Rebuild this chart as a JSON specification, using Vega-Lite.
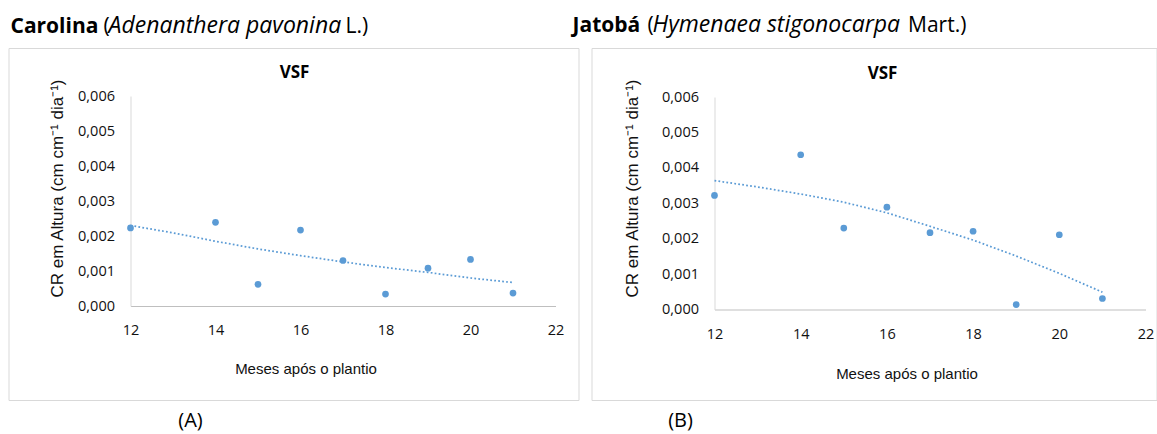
{
  "$schema": "https://vega.github.io/schema/vega-lite/v6.json",
  "background": "white",
  "padding": {"left": 7.5, "top": 13, "right": 0, "bottom": 0},
  "autosize": {"type": "pad"},
  "bounds": "flush",
  "spacing": 13,
  "config": {
    "view": {"stroke": "#d9d9d9", "strokeWidth": 1},
    "axis": {"grid": false, "ticks": false, "labelFlush": false, "labelOverlap": false, "labelFont": "Open Sans", "labelFontSize": 14.5, "labelColor": "#111", "titleFont": "Liberation Sans", "titleFontWeight": "normal", "titleColor": "#111"}
  },
  "datasets": {
    "carolina": [
      {"mes": 12, "cr": 0.00223}, {"mes": 14, "cr": 0.00239}, {"mes": 15, "cr": 0.00062},
      {"mes": 16, "cr": 0.00217}, {"mes": 17, "cr": 0.0013}, {"mes": 18, "cr": 0.00034},
      {"mes": 19, "cr": 0.00108}, {"mes": 20, "cr": 0.00133}, {"mes": 21, "cr": 0.00037}
    ],
    "carolina_trend": [
      {"mes": 12, "cr": 0.0023}, {"mes": 13, "cr": 0.00209}, {"mes": 14, "cr": 0.00185},
      {"mes": 15, "cr": 0.00163}, {"mes": 16, "cr": 0.00144}, {"mes": 17, "cr": 0.00126},
      {"mes": 18, "cr": 0.0011}, {"mes": 19, "cr": 0.00096}, {"mes": 20, "cr": 0.0008},
      {"mes": 21, "cr": 0.00067}
    ],
    "jatoba": [
      {"mes": 12, "cr": 0.00322}, {"mes": 14, "cr": 0.00437}, {"mes": 15, "cr": 0.0023},
      {"mes": 16, "cr": 0.00289}, {"mes": 17, "cr": 0.00217}, {"mes": 18, "cr": 0.00221},
      {"mes": 19, "cr": 0.00014}, {"mes": 20, "cr": 0.00211}, {"mes": 21, "cr": 0.00031}
    ],
    "jatoba_trend": [
      {"mes": 12, "cr": 0.00364}, {"mes": 13, "cr": 0.00346}, {"mes": 14, "cr": 0.00326},
      {"mes": 15, "cr": 0.00303}, {"mes": 16, "cr": 0.00273}, {"mes": 17, "cr": 0.00235},
      {"mes": 18, "cr": 0.00196}, {"mes": 19, "cr": 0.00151}, {"mes": 20, "cr": 0.00102},
      {"mes": 21, "cr": 0.00049}
    ]
  },
  "hconcat": [
    {
      "width": 570,
      "height": 352,
      "layer": [
        {"data": {"name": "carolina_trend"}, "mark": {"type": "line", "color": "#5b9bd5", "strokeWidth": 1.75, "strokeDash": [1.75, 2.25]},
          "encoding": {
            "x": {"field": "mes", "type": "quantitative",
              "scale": {"domain": [12, 22], "range": [122, 547], "nice": false, "zero": false},
              "axis": {"values": [12, 14, 16, 18, 20, 22], "format": ".0f", "offset": -94, "domainColor": "#bfbfbf", "labelPadding": 17,
                "title": "Meses após o plantio", "titleFontSize": 15, "titleX": 297, "titleY": 62, "titleBaseline": "middle", "titleAlign": "center"}},
            "y": {"field": "cr", "type": "quantitative",
              "scale": {"domain": [0, 0.006], "range": [258, 48], "nice": false, "zero": false},
              "axis": {"values": [0, 0.001, 0.002, 0.003, 0.004, 0.005, 0.006], "offset": -122, "domainColor": "#d9d9d9", "labelPadding": 16,
                "labelExpr": "replace(format(datum.value, '.3f'), '.', ',')",
                "title": "CR em Altura (cm cm⁻¹ dia⁻¹)", "titleFontSize": 17, "titleX": -73, "titleY": 140, "titleAngle": -90, "titleBaseline": "middle", "titleAlign": "center"}}
          }},
        {"data": {"name": "carolina"}, "mark": {"type": "circle", "size": 45, "color": "#5b9bd5", "opacity": 1},
          "encoding": {"x": {"field": "mes", "type": "quantitative"}, "y": {"field": "cr", "type": "quantitative"}}},
        {"data": {"values": [{"t": "Carolina"}]}, "mark": {"type": "text", "align": "left", "baseline": "alphabetic", "font": "Open Sans", "fontSize": 21, "fontWeight": "bold", "color": "#000"},
          "encoding": {"x": {"datum": 9.1765, "type": "quantitative"}, "y": {"datum": 0.0078, "type": "quantitative"}, "text": {"field": "t"}}},
        {"data": {"values": [{"t": "("}]}, "mark": {"type": "text", "align": "left", "baseline": "alphabetic", "font": "Open Sans", "fontSize": 21, "color": "#000"},
          "encoding": {"x": {"datum": 11.3647, "type": "quantitative"}, "y": {"datum": 0.0078, "type": "quantitative"}, "text": {"field": "t"}}},
        {"data": {"values": [{"t": "Adenanthera pavonina"}]}, "mark": {"type": "text", "align": "left", "baseline": "alphabetic", "font": "Open Sans", "fontSize": 23, "fontStyle": "italic", "color": "#000"},
          "encoding": {"x": {"datum": 11.4824, "type": "quantitative"}, "y": {"datum": 0.0078, "type": "quantitative"}, "text": {"field": "t"}}},
        {"data": {"values": [{"t": "L.)"}]}, "mark": {"type": "text", "align": "left", "baseline": "alphabetic", "font": "Open Sans", "fontSize": 21, "color": "#000"},
          "encoding": {"x": {"datum": 17.0588, "type": "quantitative"}, "y": {"datum": 0.0078, "type": "quantitative"}, "text": {"field": "t"}}},
        {"data": {"values": [{"t": "VSF"}]}, "mark": {"type": "text", "align": "center", "baseline": "middle", "font": "Open Sans", "fontSize": 17, "fontWeight": "bold", "color": "#000"},
          "encoding": {"x": {"datum": 15.859, "type": "quantitative"}, "y": {"datum": 0.006657, "type": "quantitative"}, "text": {"field": "t"}}},
        {"data": {"values": [{"t": "(A)"}]}, "mark": {"type": "text", "align": "center", "baseline": "middle", "font": "Open Sans", "fontSize": 20, "color": "#000"},
          "encoding": {"x": {"datum": 13.4118, "type": "quantitative"}, "y": {"datum": -0.003286, "type": "quantitative"}, "text": {"field": "t"}}}
      ]
    },
    {
      "width": 565,
      "height": 352,
      "layer": [
        {"data": {"name": "jatoba_trend"}, "mark": {"type": "line", "color": "#5b9bd5", "strokeWidth": 1.75, "strokeDash": [1.75, 2.25]},
          "encoding": {
            "x": {"field": "mes", "type": "quantitative",
              "scale": {"domain": [12, 22], "range": [123, 554], "nice": false, "zero": false},
              "axis": {"values": [12, 14, 16, 18, 20, 22], "format": ".0f", "offset": -90.5, "domainColor": "#bfbfbf", "labelPadding": 18,
                "title": "Meses após o plantio", "titleFontSize": 15, "titleX": 315, "titleY": 63.5, "titleBaseline": "middle", "titleAlign": "center"}},
            "y": {"field": "cr", "type": "quantitative",
              "scale": {"domain": [0, 0.006], "range": [261.5, 49], "nice": false, "zero": false},
              "axis": {"values": [0, 0.001, 0.002, 0.003, 0.004, 0.005, 0.006], "offset": -123, "domainColor": "#d9d9d9", "labelPadding": 16,
                "labelExpr": "replace(format(datum.value, '.3f'), '.', ',')",
                "title": "CR em Altura (cm cm⁻¹ dia⁻¹)", "titleFontSize": 17, "titleX": -82, "titleY": 140, "titleAngle": -90, "titleBaseline": "middle", "titleAlign": "center"}}
          }},
        {"data": {"name": "jatoba"}, "mark": {"type": "circle", "size": 45, "color": "#5b9bd5", "opacity": 1},
          "encoding": {"x": {"field": "mes", "type": "quantitative"}, "y": {"field": "cr", "type": "quantitative"}}},
        {"data": {"values": [{"t": "Jatobá"}]}, "mark": {"type": "text", "align": "left", "baseline": "alphabetic", "font": "Open Sans", "fontSize": 21, "fontWeight": "bold", "color": "#000"},
          "encoding": {"x": {"datum": 8.7053, "type": "quantitative"}, "y": {"datum": 0.007827, "type": "quantitative"}, "text": {"field": "t"}}},
        {"data": {"values": [{"t": "("}]}, "mark": {"type": "text", "align": "left", "baseline": "alphabetic", "font": "Open Sans", "fontSize": 21, "color": "#000"},
          "encoding": {"x": {"datum": 10.4455, "type": "quantitative"}, "y": {"datum": 0.007827, "type": "quantitative"}, "text": {"field": "t"}}},
        {"data": {"values": [{"t": "Hymenaea stigonocarpa"}]}, "mark": {"type": "text", "align": "left", "baseline": "alphabetic", "font": "Open Sans", "fontSize": 23, "fontStyle": "italic", "color": "#000"},
          "encoding": {"x": {"datum": 10.5615, "type": "quantitative"}, "y": {"datum": 0.007827, "type": "quantitative"}, "text": {"field": "t"}}},
        {"data": {"values": [{"t": "Mart.)"}]}, "mark": {"type": "text", "align": "left", "baseline": "alphabetic", "font": "Open Sans", "fontSize": 21, "color": "#000"},
          "encoding": {"x": {"datum": 16.49, "type": "quantitative"}, "y": {"datum": 0.007827, "type": "quantitative"}, "text": {"field": "t"}}},
        {"data": {"values": [{"t": "VSF"}]}, "mark": {"type": "text", "align": "center", "baseline": "middle", "font": "Open Sans", "fontSize": 17, "fontWeight": "bold", "color": "#000"},
          "encoding": {"x": {"datum": 15.898, "type": "quantitative"}, "y": {"datum": 0.006649, "type": "quantitative"}, "text": {"field": "t"}}},
        {"data": {"values": [{"t": "(B)"}]}, "mark": {"type": "text", "align": "center", "baseline": "middle", "font": "Open Sans", "fontSize": 20, "color": "#000"},
          "encoding": {"x": {"datum": 11.2111, "type": "quantitative"}, "y": {"datum": -0.003148, "type": "quantitative"}, "text": {"field": "t"}}}
      ]
    }
  ]
}
